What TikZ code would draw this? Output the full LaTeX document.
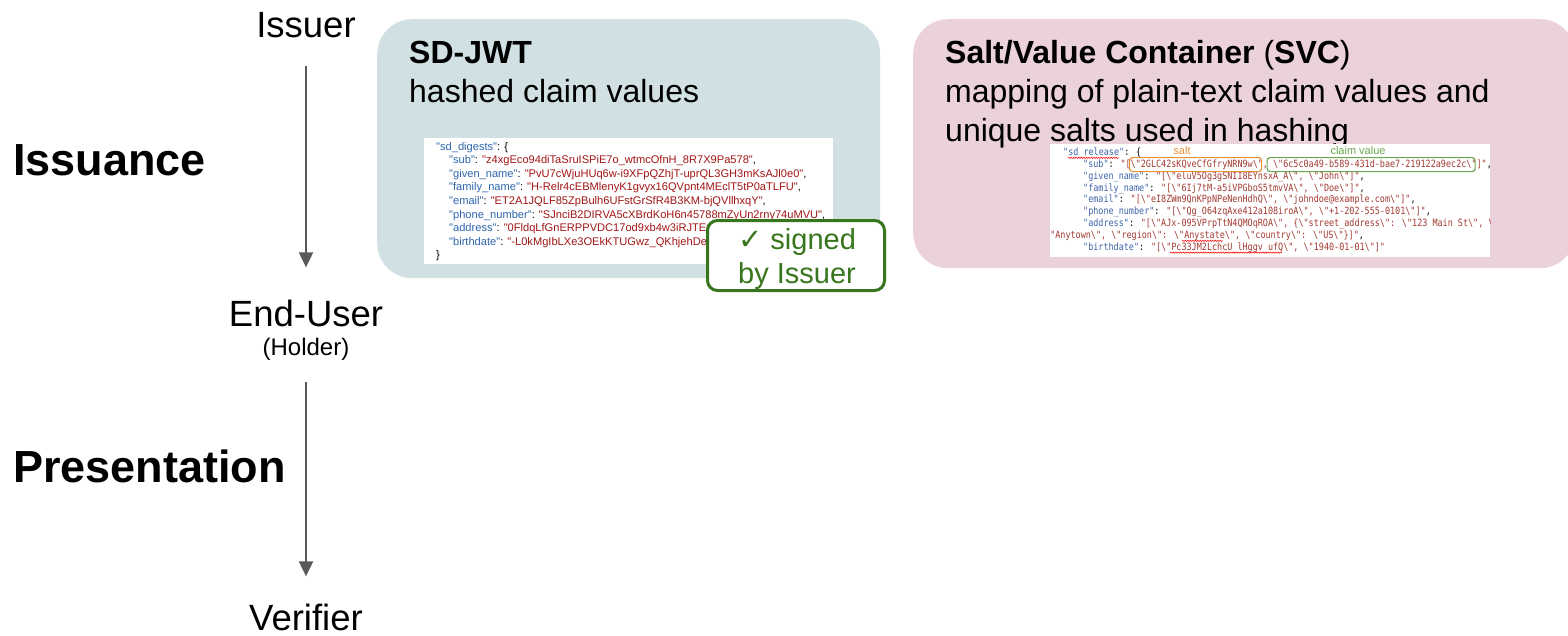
\documentclass[tikz,border=0pt]{standalone}
\usepackage{fontspec}
\setmainfont{Liberation Sans}
\newfontfamily\checkfont{DejaVu Sans}
\newfontfamily\jsonsans{Liberation Sans}[Ligatures=TeXOff]
\newfontfamily\codemono{DejaVu Sans Mono}[Ligatures=TeXOff]
\usetikzlibrary{arrows.meta,decorations.pathmorphing}

\definecolor{flowgray}{HTML}{595959}
\definecolor{jwtfill}{HTML}{D0E0E3}
\definecolor{svcfill}{HTML}{EAD1DC}
\definecolor{signgreen}{HTML}{38761D}
\definecolor{keyblue}{HTML}{2E66AE}
\definecolor{valred}{HTML}{A31515}
\definecolor{monokey}{HTML}{3D64A8}
\definecolor{monoval}{HTML}{A33A32}
\definecolor{saltorange}{HTML}{E69138}
\definecolor{claimgreen}{HTML}{6AA84F}

% colouring of JSON keys and string values
\newcommand{\jkey}[1]{\textcolor{keyblue}{#1}}
\newcommand{\jval}[1]{\textcolor{valred}{#1}}
\newcommand{\mkey}[1]{\textcolor{monokey}{#1}}
\newcommand{\mval}[1]{\textcolor{monoval}{#1}}
\newcommand{\bks}{\textbackslash}
% narrower set of the monospaced listing
\newcommand{\monoline}[1]{\scalebox{0.845}[1]{#1}}

\begin{document}
\begin{tikzpicture}[x=1pt,y=-1pt,
  role/.style={inner sep=0pt, anchor=base, font=\fontsize{36.5}{44}\selectfont},
  phase/.style={inner sep=0pt, anchor=base west, font=\bfseries\fontsize{45}{54}\selectfont},
  flow/.style={draw=flowgray, line width=2pt, -{Triangle[length=15pt,width=14pt]}},
  panel/.style={rounded corners=35pt, inner sep=0pt, anchor=north west},
  headline/.style={inner sep=0pt, anchor=base west, font=\fontsize{32}{39}\selectfont},
  shot/.style={fill=white, inner sep=0pt, anchor=north west},
  jsonline/.style={inner sep=0pt, anchor=base west, font=\jsonsans\fontsize{11.1}{13.6}\selectfont},
  codeline/.style={inner sep=0pt, anchor=base west, font=\codemono\fontsize{10}{11.85}\selectfont},
  tagbox/.style={rounded corners=3pt, line width=1.2pt, inner sep=0pt, anchor=north west},
  taglabel/.style={inner sep=0pt, anchor=base, font=\fontsize{11}{13}\selectfont},
  spell/.style={draw=red, line width=0.5pt, decorate,
    decoration={snake, amplitude=0.7pt, segment length=2.5pt}},
  signbox/.style={draw=signgreen, line width=3pt, fill=white, rounded corners=10pt, inner sep=0pt},
  signtext/.style={inner sep=0pt, anchor=base, text=signgreen, font=\fontsize{29}{34}\selectfont}
]
\useasboundingbox (0,0) rectangle (1568,635);

% ---- roles and flow ----
\node[role] (issuer) at (306,37) {Issuer};
\node[role] (enduser) at (306,326) {End-User};
\node[inner sep=0pt, anchor=base, font=\fontsize{24}{28}\selectfont] (holder) at (306,355) {(Holder)};
\node[role] (verifier) at (306,630) {Verifier};

\node[phase] (issuance) at (13,175) {Issuance};
\node[phase] (presentation) at (13,482) {Presentation};

\draw[flow, shorten <=28pt, shorten >=32pt] (issuer) -- (enduser);
\draw[flow, shorten <=22pt, shorten >=27pt] (holder) -- (verifier);

% ---- SD-JWT panel ----
\node[panel, fill=jwtfill, minimum width=503pt, minimum height=259pt] (jwtpanel) at (377,19) {};
\node[headline, font=\bfseries\fontsize{32}{39}\selectfont] (jwttitle) at (409,63) {SD-JWT};
\node[headline] (jwtsub) at (409,102) {hashed claim values};

\node[shot, minimum width=409pt, minimum height=126pt] (jwtshot) at (424,138) {};
\begin{scope}
  \clip (jwtshot.north west) rectangle (jwtshot.south east);
  \node[jsonline] (d0) at (436,150) {\jkey{"sd\_digests"}: \{};
  \node[jsonline] (d1) at (449,163.6) {\jkey{"sub"}: \jval{"z4xgEco94diTaSruISPiE7o\_wtmcOfnH\_8R7X9Pa578"},};
  \node[jsonline] (d2) at (449,177.2) {\jkey{"given\_name"}: \jval{"PvU7cWjuHUq6w-i9XFpQZhjT-uprQL3GH3mKsAJl0e0"},};
  \node[jsonline] (d3) at (449,190.8) {\jkey{"family\_name"}: \jval{"H-Relr4cEBMlenyK1gvyx16QVpnt4MEclT5tP0aTLFU"},};
  \node[jsonline] (d4) at (449,204.4) {\jkey{"email"}: \jval{"ET2A1JQLF85ZpBulh6UFstGrSfR4B3KM-bjQVllhxqY"},};
  \node[jsonline] (d5) at (449,218) {\jkey{"phone\_number"}: \jval{"SJnciB2DIRVA5cXBrdKoH6n45788mZyUn2rny74uMVU"},};
  \node[jsonline] (d6) at (449,231.6) {\jkey{"address"}: \jval{"0FldqLfGnERPPVDC17od9xb4w3iRJTEQ}};
  \node[jsonline] (d7) at (449,245.2) {\jkey{"birthdate"}: \jval{"-L0kMgIbLXe3OEkKTUGwz\_QKhjehDe}};
  \node[jsonline] (d8) at (436,258.8) {\}};
\end{scope}

% issuer signature badge
\node[signbox, minimum width=177pt, minimum height=70pt] (signed) at (796,255.5) {};
\node[signtext] (signed1) at (797,249) {{\checkfont\char"2713} signed};
\node[signtext] (signed2) at (797,283) {by Issuer};

% ---- Salt/Value Container panel ----
\node[panel, fill=svcfill, minimum width=662pt, minimum height=249pt] (svcpanel) at (913,19) {};
\node[headline] (svctitle) at (945,63) {\textbf{Salt/Value Container} (\textbf{SVC})};
\node[headline] (svcline1) at (945,102) {mapping of plain-text claim values and};
\node[headline] (svcline2) at (945,141) {unique salts used in hashing};

\node[shot, minimum width=440pt, minimum height=113pt] (svcshot) at (1050,144) {};
\begin{scope}
  \clip (svcshot.north west) rectangle (svcshot.south east);
  \node[codeline] (m0) at (1063,155.5) {\monoline{\mkey{"sd\_release"}: \{}};
  \node[codeline] (m1) at (1083,167.35) {\monoline{\mkey{"sub"}: \mval{"[\bks"2GLC42sKQveCfGfryNRN9w\bks", \bks"6c5c0a49-b589-431d-bae7-219122a9ec2c\bks"]"},}};
  \node[codeline] (m2) at (1083,179.2) {\monoline{\mkey{"given\_name"}: \mval{"[\bks"eluV5Og3gSNII8EYnsxA\_A\bks", \bks"John\bks"]"},}};
  \node[codeline] (m3) at (1083,191.05) {\monoline{\mkey{"family\_name"}: \mval{"[\bks"6Ij7tM-a5iVPGboS5tmvVA\bks", \bks"Doe\bks"]"},}};
  \node[codeline] (m4) at (1083,202.9) {\monoline{\mkey{"email"}: \mval{"[\bks"eI8ZWm9QnKPpNPeNenHdhQ\bks", \bks"johndoe@example.com\bks"]"},}};
  \node[codeline] (m5) at (1083,214.75) {\monoline{\mkey{"phone\_number"}: \mval{"[\bks"Qg\_O64zqAxe412a108iroA\bks", \bks"+1-202-555-0101\bks"]"},}};
  \node[codeline] (m6) at (1083,226.6) {\monoline{\mkey{"address"}: \mval{"[\bks"AJx-095VPrpTtN4QMOqROA\bks", \{\bks"street\_address\bks": \bks"123 Main St\bks", \bks}}};
  \node[codeline] (m7) at (1045,238.45) {\monoline{\mval{\bks"Anytown\bks", \bks"region\bks": \bks"Anystate\bks", \bks"country\bks": \bks"US\bks"\}]"},}};
  \node[codeline] (m8) at (1083,250.3) {\monoline{\mkey{"birthdate"}: \mval{"[\bks"Pc33JM2LchcU\_lHggv\_ufQ\bks", \bks"1940-01-01\bks"]"}}};
\end{scope}

% spell-check marks in the listing
\draw[spell] (1068,157.8) -- (1119,157.8);
\draw[spell] (1182,240.8) -- (1223,240.8);
\draw[spell] (1170,252.6) -- (1282,252.6);

% salt and claim value markers
\node[tagbox, draw=saltorange, minimum width=132pt, minimum height=14pt] (saltbox) at (1129,157) {};
\node[tagbox, draw=claimgreen, minimum width=208pt, minimum height=14pt] (claimbox) at (1266.5,157) {};
\node[taglabel, text=saltorange] (saltlabel) at (1182,154) {salt};
\node[taglabel, text=claimgreen] (claimlabel) at (1358,154) {claim value};
\end{tikzpicture}
\end{document}
